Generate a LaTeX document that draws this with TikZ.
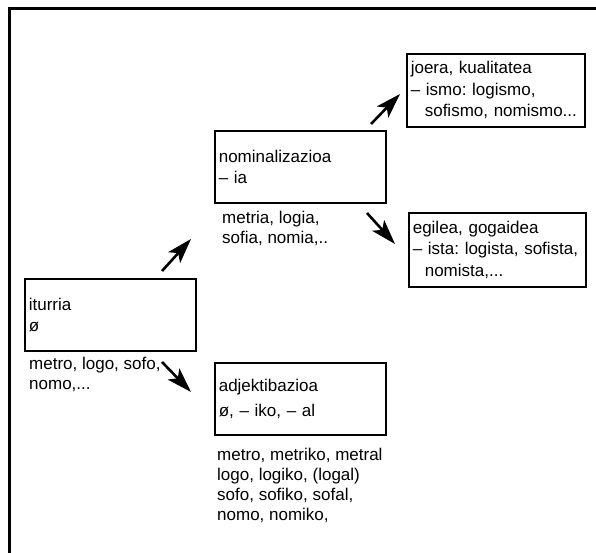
\documentclass[tikz,border=0pt]{standalone}
\usepackage{fontspec}
\setmainfont{Liberation Sans}
\usetikzlibrary{arrows.meta}
\begin{document}
\frenchspacing
\begin{tikzpicture}[x=1pt, y=-1pt,
    box/.style={draw, line width=1.6pt, anchor=north west, align=left, inner xsep=4pt, inner ysep=0pt, font=\fontsize{17}{21.5}\selectfont},
    list/.style={anchor=north west, align=left, inner sep=0pt, font=\fontsize{17}{20}\selectfont},
    arr/.style={-{Stealth[length=25pt, width=16pt, inset=6pt]}, line width=2.6pt}]
\useasboundingbox (0,0) rectangle (596,553);
\draw[line width=3pt] (9,553)--(9,9)--(596,9);

\node[box, minimum width=171pt, minimum height=72pt, text width=163pt] (itur) at (24,278) {iturria\\ø};
\node[box, minimum width=171pt, minimum height=72pt, text width=163pt] (nom) at (214,130) {nominalizazioa\\– ia};
\node[box, minimum width=171pt, minimum height=72pt, text width=163pt] (adj) at (214,362) {adjektibazioa\\[4pt]ø, – iko, – al};
\node[box, minimum width=178pt, minimum height=73pt, text width=170pt] (joera) at (406,53) {joera, kualitatea\\– ismo: logismo,\\\hspace*{14pt}sofismo, nomismo...};
\node[box, minimum width=177pt, minimum height=74pt, text width=169pt] (egile) at (408,212) {egilea, gogaidea\\– ista: logista, sofista,\\\hspace*{12pt}nomista,...};

\node[list] (itur-ex) at (29,356.6) {metro, logo, sofo,\\nomo,...};
\node[list] (nom-ex) at (222,210.6) {metria, logia,\\sofia, nomia,..};
\node[list] (adj-ex) at (217,447.6) {metro, metriko, metral\\logo, logiko, (logal)\\sofo, sofiko, sofal,\\nomo, nomiko,};

\coordinate (a1) at (162,271); \coordinate (b1) at (191,239);
\coordinate (a2) at (371,124); \coordinate (b2) at (400,94);
\coordinate (a3) at (367,213); \coordinate (b3) at (395,244);
\coordinate (a4) at (162,362); \coordinate (b4) at (191,392);
\foreach \i in {1,...,4}
{
    \draw[arr] (a\i)--(b\i);
}
\end{tikzpicture}
\end{document}
